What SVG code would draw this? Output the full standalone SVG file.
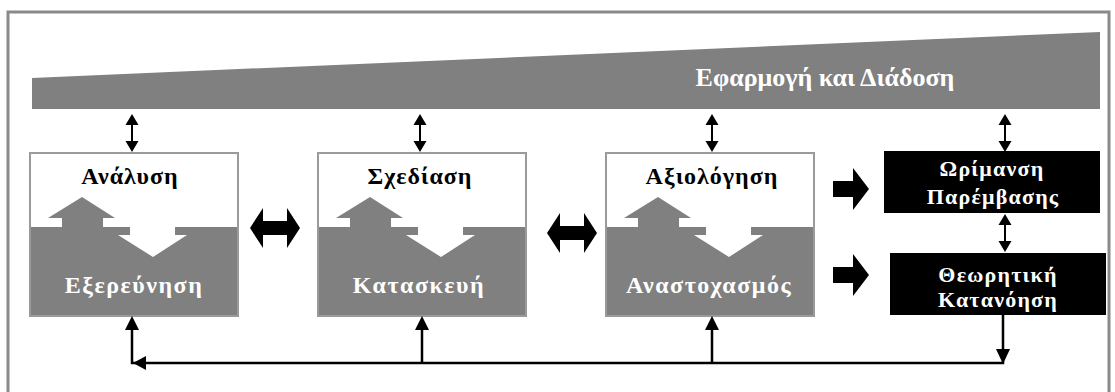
<svg xmlns="http://www.w3.org/2000/svg" width="1115" height="392" viewBox="0 0 1115 392">
<defs>
<style>
.frame{fill:none;stroke:#8a8a8a;stroke-width:3}
.boxw{fill:#fff}
.boxg{fill:#808080}
.boxb{fill:none;stroke:#9a9a9a;stroke-width:2}
.black{fill:#000}
.t{font-family:"Liberation Serif","Times New Roman",serif;font-weight:bold;text-anchor:middle}
.tb{fill:#000;font-size:24px;letter-spacing:1px}
.tw{fill:#fff;font-size:24px;letter-spacing:1.5px}
.tk{fill:#fff;font-size:22px;letter-spacing:1.2px}
.line{fill:none;stroke:#000;stroke-width:2.5}
</style>
<polygon id="vdbl" points="0,-19 6.5,-8 1,-8 1,8 6.5,8 0,19 -6.5,8 -1,8 -1,-8 -6.5,-8" />
<polygon id="hdbl" points="-25,0 -12,-20 -12,-7 12,-7 12,-20 25,0 12,20 12,7 -12,7 -12,20" />
<polygon id="rarr" points="-18,-8 2,-8 2,-21 18,0 2,21 2,8 -18,8" />
<g id="inner">
<polygon points="18,65 52,44 85,65 73,65 73,74 32,74 32,65" fill="#808080"/>
<polygon points="100,74 145,74 145,82 157,82 123,104 88,82 100,82" fill="#fff"/>
</g>
</defs>
<rect x="0" y="0" width="1115" height="392" fill="#fff"/>
<rect class="frame" x="8" y="12" width="1101" height="400"/>

<g id="wedge">
<polygon points="32,78 1100,32 1100,109 32,109" fill="#808080"/>
<text class="t" x="825" y="86" fill="#fff" font-size="26">Εφαρμογή και Διάδοση</text>
</g>

<g id="analysis">
<rect class="boxw" x="30" y="153" width="208" height="74"/>
<rect class="boxg" x="30" y="227" width="208" height="89"/>
<use href="#inner" transform="translate(30,153)"/>
<rect class="boxb" x="30" y="153" width="208" height="163"/>
<text class="t tb" x="130" y="184">Ανάλυση</text>
<text class="t tw" x="134" y="293">Εξερεύνηση</text>
</g>

<g id="design">
<rect class="boxw" x="318" y="153" width="208" height="74"/>
<rect class="boxg" x="318" y="227" width="208" height="89"/>
<use href="#inner" transform="translate(318,153)"/>
<rect class="boxb" x="318" y="153" width="208" height="163"/>
<text class="t tb" x="420" y="184">Σχεδίαση</text>
<text class="t tw" x="419" y="293">Κατασκευή</text>
</g>

<g id="evaluation">
<rect class="boxw" x="606" y="153" width="208" height="74"/>
<rect class="boxg" x="606" y="227" width="208" height="89"/>
<use href="#inner" transform="translate(606,153)"/>
<rect class="boxb" x="606" y="153" width="208" height="163"/>
<text class="t tb" x="712" y="184">Αξιολόγηση</text>
<text class="t tw" x="709" y="293">Αναστοχασμός</text>
</g>

<g id="maturation">
<rect class="black" x="884" y="151" width="216" height="62"/>
<text class="t tk" x="992" y="176">Ωρίμανση</text>
<text class="t tk" x="993" y="204">Παρέμβασης</text>
</g>

<g id="theory">
<rect class="black" x="890" y="253" width="216" height="62"/>
<text class="t tk" x="998" y="282">Θεωρητική</text>
<text class="t tk" x="998" y="307">Κατανόηση</text>
</g>

<g id="connectors">
<use href="#vdbl" transform="translate(132,133)"/>
<use href="#vdbl" transform="translate(420,133)"/>
<use href="#vdbl" transform="translate(712,133)"/>
<use href="#vdbl" transform="translate(1005,133)"/>
<use href="#vdbl" transform="translate(1005,233)"/>
<use href="#hdbl" transform="translate(275,228)"/>
<use href="#hdbl" transform="translate(572,233)"/>
<use href="#rarr" transform="translate(851,189)"/>
<use href="#rarr" transform="translate(851,275)"/>
<polyline class="line" points="1003,315 1003,363 132,363 132,328"/>
<line class="line" x1="422" y1="363" x2="422" y2="328"/>
<line class="line" x1="712" y1="363" x2="712" y2="328"/>
<polygon points="132,316 139,330 125,330" fill="#000"/>
<polygon points="422,316 429,330 415,330" fill="#000"/>
<polygon points="712,316 719,330 705,330" fill="#000"/>
<polygon points="133,363 146,356 146,370" fill="#000"/>
<polygon points="1003,364 996,349 1010,349" fill="#000"/>
</g>
</svg>
